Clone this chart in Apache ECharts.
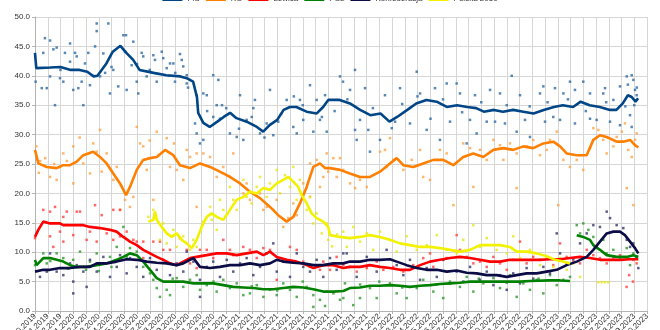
<!DOCTYPE html>
<html><head><meta charset="utf-8">
<script src="https://cdn.jsdelivr.net/npm/echarts@6/dist/echarts.min.js"></script>
<style>html,body{margin:0;padding:0;background:#fff}#c{width:660px;height:330px}</style>
</head><body><div id="c"></div>
<script>
// x values: months since 01.10.2019
const monthLabels = ['01.10.2019','01.11.2019','01.12.2019',
'01.01.2020','01.02.2020','01.03.2020','01.04.2020','01.05.2020','01.06.2020','01.07.2020','01.08.2020','01.09.2020','01.10.2020','01.11.2020','01.12.2020',
'01.01.2021','01.02.2021','01.03.2021','01.04.2021','01.05.2021','01.06.2021','01.07.2021','01.08.2021','01.09.2021','01.10.2021','01.11.2021','01.12.2021',
'01.01.2022','01.02.2022','01.03.2022','01.04.2022','01.05.2022','01.06.2022','01.07.2022','01.08.2022','01.09.2022','01.10.2022','01.11.2022','01.12.2022',
'01.01.2023','01.02.2023','01.03.2023','01.04.2023','01.05.2023','01.06.2023','01.07.2023','01.08.2023','01.09.2023','01.10.2023'];
const yTicks = [0,5,10,15,20,25,30,35,40,45,50];
const parties = ['PiS','KO','Lewica','PSL','Konfederacja','Polska 2050'];

const pisTrend = [[0,43.9],[0.1,41.3],[1.2,41.4],[2,41.5],[2.8,41.0],[3.5,41.0],[4.1,40.7],[4.6,39.9],[4.9,40.0],[5.6,42.1],[6.1,44.1],[6.7,45.1],[7.2,43.8],[7.7,42.7],[8.2,41.0],[9.3,40.5],[10.3,40.1],[11.4,39.9],[11.9,39.6],[12.4,39.0],[12.7,36.4],[12.8,33.7],[13.2,32.0],[13.7,31.3],[14.3,32.2],[14.8,33.0],[15.3,33.7],[15.8,32.8],[16.6,32.2],[17.4,31.3],[17.9,30.5],[18.4,31.6],[19.0,32.5],[19.5,34.2],[20,34.7],[20.5,34.7],[21.3,33.9],[22.1,33.6],[22.6,34.7],[23,35.9],[23.1,35.6],[23.9,35.9],[24.7,35.3],[25.5,34.2],[26.3,33.3],[27.1,33.6],[27.8,32.2],[28.4,33.0],[29.2,34.2],[29.9,35.3],[30.7,35.9],[31.5,35.6],[32.3,34.7],[33.1,35.0],[33.9,34.7],[34.6,34.5],[35.2,33.9],[36,34.2],[36.7,33.9],[37.5,34.2],[38.3,33.9],[39.1,33.6],[39.9,34.2],[40.7,34.7],[41.4,35.0],[42.2,34.7],[42.8,35.6],[43.5,35.0],[44.3,34.7],[45.1,34.2],[45.6,34.2],[46.1,35.3],[46.5,36.7],[46.8,36.4],[47.1,35.6],[47.3,36.2]];
const koTrend = [[0,27.4],[0.26,25.1],[0.92,24.5],[1.7,24.3],[2.22,24.8],[2.75,24.8],[3.27,25.4],[3.79,26.5],[4.57,27.1],[5.1,26.2],[5.62,25.1],[6.14,23.4],[6.67,21.7],[7.14,19.7],[7.45,21.1],[7.98,24.0],[8.49,25.7],[9.02,26.0],[9.55,26.2],[10.2,27.4],[10.85,26.5],[11.37,24.8],[12.16,24.3],[12.94,25.1],[13.73,24.5],[14.5,23.7],[15.29,22.8],[16.08,21.7],[16.86,20.3],[17.65,19.2],[18.43,17.7],[19.08,16.3],[19.74,15.2],[20.26,16.0],[20.78,18.3],[21.31,21.1],[21.83,24.5],[22.35,25.1],[22.75,24.3],[23.14,24.3],[23.92,24.0],[24.7,23.4],[25.49,22.8],[26.27,22.8],[27.06,23.7],[27.84,25.1],[28.37,26.0],[28.89,24.8],[29.67,24.5],[30.45,25.1],[31.24,25.7],[32.02,25.7],[32.81,24.8],[33.59,26.2],[34.38,26.8],[35.16,26.2],[35.95,27.4],[36.73,27.7],[37.51,27.4],[38.3,28.0],[39.08,27.7],[39.87,28.5],[40.65,28.8],[41.18,28.0],[41.7,26.8],[42.49,26.5],[43.27,26.5],[43.79,29.1],[44.31,29.9],[44.84,29.6],[45.62,28.8],[46.14,28.8],[46.67,29.1],[47.06,28.2],[47.32,27.8]];
const lewicaTrend = [[0,12.6],[0.26,13.8],[0.65,15.2],[1.18,14.9],[1.96,14.9],[2.22,14.6],[3,14.6],[3.79,14.6],[4.31,14.3],[5.1,14.1],[5.88,13.8],[6.4,13.5],[6.93,12.6],[7.45,11.8],[7.98,11.2],[8.49,10.4],[9.02,9.8],[9.55,9.2],[10.06,8.7],[10.59,8.1],[11.11,7.8],[11.63,8.4],[12.16,9.0],[12.68,9.2],[13.47,9.5],[14.25,9.8],[15.04,9.8],[15.82,9.5],[16.6,9.8],[17.39,10.1],[17.91,9.5],[18.43,10.1],[18.96,9.2],[19.74,8.7],[20.53,8.4],[21.31,7.8],[21.83,7.3],[22.61,7.8],[23.4,7.8],[24.18,7.3],[24.7,7.5],[25.49,7.5],[26.27,7.8],[27.06,7.5],[27.84,7.3],[28.63,7.0],[29.41,7.0],[30.2,7.8],[30.98,8.4],[31.76,8.7],[32.55,9.0],[33.33,9.2],[34.12,9.0],[34.9,8.7],[35.69,8.4],[36.47,8.4],[37.25,8.7],[38.04,8.7],[38.82,8.7],[39.61,8.7],[40.39,8.8],[41.18,8.8],[41.96,9.0],[42.75,9.2],[43.53,9.0],[44.31,8.7],[45.1,8.7],[45.88,8.7],[46.67,8.8],[47.32,8.8]];
const pslTrend = [[0,8.7],[0.13,7.8],[0.65,9.0],[1.18,9.0],[1.7,8.7],[2.22,8.4],[2.75,7.8],[3.27,7.5],[4.05,7.5],[4.84,7.8],[5.62,8.1],[6.4,8.7],[6.93,9.2],[7.45,9.8],[7.98,9.5],[8.49,8.4],[9.02,7.0],[9.55,5.6],[10.06,5.0],[10.85,5.0],[11.63,5.0],[12.42,4.7],[13.2,4.7],[13.98,4.7],[14.77,4.4],[15.55,4.1],[16.34,4.0],[17.12,3.9],[17.91,3.7],[18.69,3.7],[19.47,3.9],[20.26,4.1],[21.04,4.0],[21.83,3.7],[22.61,3.3],[23.4,3.3],[24.18,3.4],[24.7,3.9],[25.49,4.0],[26.27,4.3],[27.06,4.3],[27.84,4.4],[28.63,4.3],[29.41,4.1],[30.2,4.3],[30.98,4.4],[31.76,4.6],[32.55,4.7],[33.33,4.8],[34.12,5.0],[34.9,5.0],[36.47,5.0],[38.04,5.0],[38.82,5.1],[40.39,5.2],[41.18,5.2],[41.96,5.1],[42.3,null],[42.49,12.9],[43.0,12.6],[43.53,12.1],[43.79,11.2],[44.31,10.4],[44.84,9.5],[45.62,9.2],[46.41,9.2],[46.93,9.5],[47.32,9.2]];
const konfTrend = [[0,6.7],[0.65,7.0],[1.18,7.0],[1.96,7.3],[2.75,7.3],[3.53,7.5],[4.31,7.5],[4.84,8.1],[5.62,8.1],[6.4,8.4],[7.19,8.8],[7.98,8.7],[8.76,8.4],[9.55,8.2],[10.33,8.1],[11.11,7.8],[11.63,8.1],[12.42,9.0],[12.94,7.5],[13.73,7.3],[14.5,7.5],[15.29,7.8],[16.08,7.8],[16.86,8.1],[17.65,7.8],[18.43,8.1],[18.96,8.7],[19.47,8.4],[20.26,8.2],[21.04,8.1],[21.83,7.8],[22.61,7.8],[23.4,8.1],[24.18,8.1],[24.7,8.4],[25.49,8.4],[26.27,8.7],[27.06,8.7],[27.84,8.8],[28.37,8.4],[29.15,7.8],[29.94,7.3],[30.72,7.0],[31.51,7.0],[32.29,6.7],[33.07,6.9],[33.86,6.5],[34.64,6.4],[35.43,6.1],[36.21,6.1],[37.0,5.8],[37.78,6.1],[38.56,6.4],[39.35,6.4],[40.13,6.7],[40.92,7.0],[41.7,7.8],[42.49,8.4],[43.27,9.2],[43.79,10.4],[44.31,11.8],[44.84,13.2],[45.36,13.5],[45.88,13.5],[46.27,12.9],[46.67,11.8],[47.06,10.7],[47.32,9.8]];
const p2050Trend = [[8.89,15.2],[9.28,15.5],[9.41,16.9],[9.55,15.5],[9.94,14.3],[10.33,13.2],[10.72,12.6],[11.11,13.2],[11.51,12.1],[11.9,11.5],[12.29,10.7],[12.68,12.1],[13.07,14.3],[13.47,16.0],[13.86,16.6],[14.25,16.0],[14.77,15.5],[15.29,17.2],[15.82,18.9],[16.34,19.4],[16.86,20.3],[17.39,20.0],[17.91,20.9],[18.43,20.6],[18.96,21.7],[19.47,22.3],[19.87,22.8],[20.26,22.0],[20.65,21.1],[20.92,19.7],[21.31,18.3],[21.7,16.6],[22.09,15.8],[22.61,15.2],[23.0,14.3],[23.14,12.9],[23.92,12.6],[24.7,12.4],[25.49,12.6],[26.27,12.9],[27.06,12.6],[27.84,12.1],[28.63,11.5],[29.41,11.2],[30.2,10.9],[30.98,10.9],[31.76,10.7],[32.55,10.4],[33.33,10.1],[34.12,10.4],[34.9,11.2],[35.69,11.2],[36.47,11.2],[37.25,10.9],[37.78,10.1],[38.56,10.1],[39.35,9.8],[40.13,9.3],[40.8,8.7],[41.4,8.4],[41.96,8.1]];

const pisPolls = [[0.05,39.0],[0.78,46.4],[1.18,46.0],[0.65,43.9],[1.44,44.5],[1.70,44.8],[0.53,37.9],[0.92,37.9],[1.18,39.9],[1.96,39.6],[2.22,39.0],[2.75,45.5],[2.35,43.9],[2.75,42.4],[3.14,43.9],[3.27,43.3],[3.0,37.6],[3.4,37.9],[3.66,39.0],[3.92,42.1],[4.18,43.9],[4.31,38.4],[4.84,48.9],[4.84,47.6],[4.71,45.0],[5.10,39.9],[5.36,43.8],[5.75,48.9],[5.88,37.0],[6.14,41.0],[6.53,38.2],[6.93,46.9],[7.14,46.9],[7.06,44.1],[7.19,37.6],[7.71,45.8],[7.58,41.8],[7.98,39.0],[8.10,37.0],[8.37,43.9],[8.49,43.3],[8.76,39.9],[9.28,43.5],[9.41,42.7],[9.55,39.0],[9.94,44.1],[10.06,43.0],[10.33,41.3],[10.59,42.1],[10.85,42.1],[10.98,39.0],[11.37,43.7],[11.51,42.7],[11.63,41.6],[11.9,40.1],[11.9,38.7],[12.68,36.7],[13.2,37.0],[13.47,36.7],[13.98,40.1],[14.38,39.3],[1.57,35.0],[3.79,35.0],[12.55,31.9],[12.68,30.2],[12.94,28.5],[13.2,29.1],[13.98,33.0],[14.51,32.7],[14.25,35.0],[15.29,30.2],[15.82,29.6],[16.34,29.1],[16.6,32.5],[17.12,34.5],[17.65,30.2],[18.17,31.9],[18.69,29.9],[19.08,32.2],[19.74,35.9],[20.26,31.3],[20.53,30.2],[21.04,32.5],[21.83,30.5],[22.35,32.5],[22.88,30.5],[22.09,35.9],[14.67,35.0],[16.08,36.7],[17.25,35.9],[18.43,37.6],[20.78,35.9],[21.57,38.4],[22.75,36.7],[23.92,39.9],[24.16,39.0],[25.1,41.0],[25.1,30.8],[25.23,29.1],[26.14,30.8],[26.27,27.1],[27.06,29.1],[27.98,31.1],[28.63,37.9],[29.94,40.7],[30.72,30.8],[31.76,29.1],[32.29,38.7],[33.07,38.7],[33.86,28.5],[34.64,30.2],[35.43,32.2],[37.39,40.0],[37.78,30.5],[38.82,29.6],[39.87,38.2],[40.65,33.0],[41.44,37.0],[41.96,39.0],[43.0,39.0],[43.53,32.7],[44.05,32.5],[44.57,37.0],[45.36,35.9],[46.41,39.9],[46.8,40.1],[46.93,39.3],[46.8,31.3],[46.67,33.3],[47.06,37.6],[47.19,36.7],[24.71,37.6],[25.88,37.9],[27.45,36.7],[30.2,37.0],[31.37,37.9],[33.33,37.0],[34.51,36.7],[35.69,37.6],[36.47,37.0],[38.04,36.7],[39.61,37.0],[40.78,37.9],[42.35,37.6],[43.53,37.0],[44.71,37.9],[45.88,38.2],[25.49,32.5],[28.24,32.2],[29.41,31.9],[31.02,32.7],[32.55,32.2],[34.12,32.5],[36.08,32.2],[36.86,31.9],[38.43,32.5],[40.0,32.2],[41.18,32.5],[42.35,31.9],[45.1,32.2],[45.88,31.6],[26.5,34.5],[28.8,35.2],[30.0,36.5],[32.0,36.0],[33.5,33.8],[35.0,35.5],[37.0,35.0],[38.8,34.8],[40.2,35.5],[41.8,36.0],[43.2,34.0],[44.8,35.5],[46.3,34.8],[47.0,35.0],[47.2,38.0],[46.5,38.5],[13.5,34.0],[15.0,34.5],[16.0,31.0],[17.0,33.0],[18.0,29.5],[19.3,33.5],[20.3,36.5],[21.0,35.0],[22.5,33.0],[23.5,34.0],[24.5,36.0],[2.0,41.0],[5.5,40.5],[6.0,41.5],[8.0,42.0],[9.0,41.0],[10.5,40.0],[11.0,40.5],[12.0,38.0]];
const koPolls = [[0.1,28.0],[0.4,25.5],[0.8,26.0],[1.5,25.0],[2.5,25.5],[0.3,23.5],[5.1,30.8],[3.5,29.5],[9.0,29.0],[10.9,28.5],[2.22,26.8],[1.96,24.5],[3.0,28.0],[1.18,22.8],[1.7,22.3],[3.0,21.7],[3.79,25.1],[4.57,28.5],[4.84,27.1],[4.31,23.4],[5.23,23.7],[5.62,26.8],[6.14,22.3],[6.41,24.5],[6.67,17.2],[7.06,18.9],[7.45,17.7],[7.71,19.4],[7.98,31.3],[8.24,28.5],[8.49,28.0],[8.76,24.0],[9.28,18.9],[9.55,30.5],[10.33,29.4],[10.59,24.5],[11.11,24.0],[11.63,22.3],[11.9,27.4],[12.16,26.2],[12.68,26.8],[12.68,17.7],[13.2,26.8],[13.73,26.2],[14.25,22.8],[14.77,24.5],[15.29,22.8],[15.55,26.8],[16.34,20.0],[16.6,21.7],[16.86,18.9],[17.65,20.0],[17.91,17.2],[18.17,17.7],[18.69,17.2],[18.96,18.9],[19.47,14.3],[19.87,15.8],[20.26,18.3],[20.53,16.3],[21.04,21.7],[21.57,19.4],[21.57,25.1],[22.09,25.7],[22.35,21.1],[22.88,26.8],[23.0,23.7],[22.61,22.8],[23.4,26.0],[23.92,26.0],[24.18,24.0],[23.66,22.8],[24.71,21.7],[25.1,20.9],[25.49,22.3],[26.02,21.1],[27.06,27.1],[27.45,27.4],[27.58,24.5],[28.1,25.7],[27.84,29.4],[28.89,24.0],[29.55,25.7],[30.2,27.4],[30.45,22.8],[30.98,22.3],[31.76,27.4],[32.29,26.8],[32.81,18.0],[33.59,28.5],[34.12,27.7],[34.38,21.1],[34.9,27.4],[35.43,25.7],[35.95,29.1],[36.47,28.2],[36.73,25.7],[37.25,28.5],[37.78,20.9],[37.78,26.8],[38.56,28.0],[39.08,29.1],[39.61,26.5],[40.13,27.4],[40.39,29.1],[40.92,30.5],[41.04,18.0],[41.44,25.7],[41.96,24.5],[42.49,25.7],[43.0,24.0],[43.53,27.7],[43.79,31.1],[44.18,30.8],[44.57,29.1],[44.84,26.8],[45.36,28.0],[45.62,29.6],[46.02,30.5],[46.27,31.9],[46.53,27.4],[46.8,26.2],[47.06,29.1],[47.19,30.2],[46.41,20.9],[46.93,18.0]];
const lewicaPolls = [[0,12.4],[0.65,17.2],[1.18,16.9],[1.57,17.7],[2.22,16.0],[2.49,16.9],[3.27,16.9],[3.53,16.9],[4.71,18.0],[5.23,16.3],[1.96,13.5],[1.18,12.7],[2.22,11.8],[3.0,12.9],[1.44,10.9],[4.05,12.1],[4.31,13.5],[4.84,11.8],[5.62,13.2],[6.14,12.1],[6.67,12.7],[7.19,13.5],[6.14,17.2],[6.67,17.2],[7.71,12.1],[7.98,11.8],[8.49,11.8],[8.49,9.0],[9.28,11.8],[9.8,11.8],[10.06,10.4],[10.59,10.4],[11.37,12.4],[11.9,10.4],[12.16,8.1],[12.68,7.3],[12.94,10.4],[13.47,10.4],[13.98,9.0],[14.77,12.1],[15.29,10.4],[15.55,9.5],[16.34,10.9],[16.86,10.4],[17.39,9.0],[17.91,10.7],[18.43,10.4],[18.96,5.3],[19.47,8.7],[20.0,10.9],[20.53,10.4],[21.04,8.4],[21.57,7.5],[22.35,7.0],[22.61,8.4],[23.14,7.0],[23.66,9.2],[24.18,7.8],[24.71,7.5],[25.23,6.7],[26.02,7.3],[26.8,8.4],[27.32,7.0],[28.1,7.5],[28.89,6.7],[29.67,7.8],[30.45,9.0],[30.98,9.8],[31.24,7.5],[32.29,9.0],[33.07,12.9],[33.33,10.4],[33.86,9.2],[34.38,8.1],[34.9,8.4],[35.43,7.5],[35.95,9.2],[36.47,8.1],[37.0,7.0],[37.51,8.7],[38.04,11.8],[38.56,8.1],[39.08,9.2],[39.61,8.7],[40.13,6.7],[40.65,7.8],[41.18,11.5],[41.7,9.2],[42.22,8.4],[42.75,8.1],[43.27,10.4],[43.79,9.5],[44.31,9.0],[44.84,8.1],[45.36,9.0],[45.88,9.5],[46.4,4.1],[46.6,6.1],[46.93,8.7],[47.19,8.1],[46.9,5.0]];
const pslPolls = [[0,7.8],[0.65,9.8],[0.92,8.1],[1.7,9.8],[2.22,9.0],[3.0,8.7],[3.53,10.1],[4.31,8.4],[4.84,9.8],[5.36,8.1],[5.88,9.2],[6.41,10.9],[6.93,14.3],[7.19,9.2],[7.45,10.7],[7.98,10.1],[8.49,7.5],[9.02,6.4],[9.28,5.3],[9.55,3.9],[9.8,2.4],[10.33,3.6],[10.59,2.7],[11.11,5.6],[11.63,4.1],[12.16,5.3],[12.68,6.1],[12.94,3.6],[13.47,4.4],[14.25,3.3],[14.77,5.3],[15.29,3.9],[15.82,4.7],[16.34,2.7],[16.86,3.0],[17.39,4.4],[17.91,2.4],[18.43,3.6],[18.96,2.7],[19.47,4.7],[20.0,3.6],[20.53,2.4],[21.31,4.1],[21.83,2.7],[22.35,1.9],[22.88,3.3],[23.4,3.0],[23.92,1.9],[24.31,4.7],[21.83,0.7],[22.75,0.85],[24.18,2.2],[24.96,1.0],[25.49,2.2],[26.27,3.9],[26.8,2.2],[27.84,4.7],[28.37,3.0],[29.15,2.2],[29.94,3.9],[30.45,5.3],[31.24,3.3],[32.02,2.2],[32.55,5.0],[33.33,4.1],[33.86,5.8],[34.38,3.3],[35.16,4.7],[35.95,5.6],[36.47,3.9],[37.25,6.1],[37.78,2.4],[38.3,4.7],[38.82,3.6],[39.35,5.3],[39.87,3.0],[40.39,6.1],[40.92,4.4],[41.44,5.3],[41.96,5.8],[42.49,14.6],[42.75,13.2],[43.0,14.9],[43.4,13.8],[43.79,12.6],[44.05,10.9],[44.57,12.1],[44.84,9.8],[45.36,10.4],[45.88,9.0],[46.41,10.7],[46.67,7.8],[46.93,9.8],[47.19,9.0],[1.2,8.5],[2.6,7.2],[4.0,7.0],[5.0,6.8],[6.0,7.5],[10.8,5.5],[14.0,5.0],[17.0,4.2],[19.0,3.5],[21.0,5.0],[25.5,4.5],[27.0,5.0],[28.8,4.0],[31.5,4.5],[34.8,5.5],[37.0,4.8],[39.5,5.5]];
const konfPolls = [[0.39,5.8],[0.92,6.7],[1.18,9.8],[1.7,6.7],[2.22,6.1],[2.75,8.1],[3.0,5.0],[3.27,7.8],[3.79,6.7],[4.31,8.7],[4.84,6.7],[5.36,9.2],[5.88,5.8],[6.41,7.5],[6.67,9.5],[7.19,6.4],[7.45,9.0],[7.98,7.5],[8.49,5.8],[9.02,9.0],[9.55,7.0],[10.06,8.7],[10.59,6.1],[11.11,8.1],[11.63,6.7],[11.9,10.1],[12.42,8.4],[12.94,5.3],[13.47,7.5],[13.98,8.4],[14.51,5.8],[15.04,8.7],[15.55,6.7],[16.08,8.1],[16.6,9.0],[17.12,6.1],[17.65,7.5],[18.17,9.8],[18.69,11.5],[18.96,6.7],[19.47,8.4],[20.0,5.8],[20.53,9.8],[21.04,7.5],[21.57,6.7],[22.09,8.7],[22.61,5.8],[23.14,9.0],[23.66,7.0],[24.18,9.8],[3.0,3.0],[4.05,4.1],[12.94,2.4],[24.45,9.8],[25.23,5.8],[26.02,9.2],[26.8,6.7],[27.58,10.4],[28.37,7.8],[28.89,6.1],[29.41,8.7],[30.2,5.3],[30.72,7.3],[31.51,5.8],[32.02,8.7],[32.55,4.7],[33.07,6.7],[33.59,5.0],[34.12,7.5],[34.9,5.3],[35.43,6.7],[35.95,4.4],[36.47,6.1],[37.0,3.6],[37.51,6.4],[38.04,4.7],[38.56,7.3],[39.08,5.5],[39.87,7.5],[40.39,6.4],[40.92,13.2],[41.18,9.8],[41.7,8.1],[42.22,8.8],[42.75,11.5],[43.27,13.2],[43.79,14.6],[44.31,14.3],[44.84,16.9],[45.1,15.8],[45.62,14.6],[46.14,14.1],[46.41,12.1],[46.67,10.9],[46.93,11.5],[47.19,9.2],[47.32,7.3]];
const p2050Polls = [[8.89,16.0],[9.28,17.2],[9.8,12.1],[10.06,14.9],[10.33,11.5],[10.85,13.8],[11.11,10.9],[11.63,12.7],[12.16,10.4],[12.42,12.1],[12.68,10.9],[13.2,15.2],[13.73,17.7],[13.86,15.5],[14.25,13.8],[14.51,18.9],[14.77,17.2],[15.29,21.1],[15.55,18.9],[15.82,17.2],[16.34,22.3],[16.6,19.4],[17.0,18.3],[17.39,21.1],[17.65,22.8],[18.17,19.4],[18.43,21.7],[18.96,24.0],[19.22,20.0],[19.61,23.1],[20.0,21.1],[20.26,24.5],[20.53,18.9],[20.78,22.3],[21.31,17.2],[21.57,19.4],[21.83,14.9],[22.09,16.6],[22.49,13.2],[22.88,14.9],[23.0,12.1],[23.3,11.0],[23.7,13.0],[24.18,13.5],[24.45,10.9],[24.96,14.3],[25.49,11.8],[26.02,13.2],[26.53,10.4],[27.06,13.5],[27.84,12.1],[28.37,10.1],[29.15,12.7],[29.94,10.4],[30.72,11.2],[31.51,12.9],[32.29,10.4],[33.07,9.8],[33.59,12.1],[34.38,14.6],[34.9,10.9],[35.43,12.4],[36.21,10.4],[37.0,9.8],[37.51,12.7],[38.04,9.0],[38.82,10.4],[39.61,7.8],[40.13,9.0],[40.65,7.5],[41.18,9.0],[41.7,7.0],[42.22,8.1],[42.75,5.8],[44.18,4.9],[44.44,4.9],[44.7,4.9],[44.96,4.9]];

const lineColors = ['#004586','#ff7f00','#ff0000','#008000','#0b0b45','#f2f200'];
const dotColors = ['#2f6aa3','#ffa347','#ff4040','#2e9a2e','#34346e','#e6e61a'];
const trends = [pisTrend, koTrend, lewicaTrend, pslTrend, konfTrend, p2050Trend];
const polls = [pisPolls, koPolls, lewicaPolls, pslPolls, konfPolls, p2050Polls];

const FONT = 'Liberation Sans';
const series = [];
parties.forEach((p, i) => {
  series.push({
    name: p + ' (sondaże)', type: 'scatter', data: polls[i], symbol: 'rect', symbolSize: 2.5,
    itemStyle: { color: dotColors[i] }, z: 2, silent: true, animation: false
  });
});
parties.forEach((p, i) => {
  series.push({
    name: p, type: 'line', data: trends[i], showSymbol: false, symbol: 'none',
    connectNulls: false, lineStyle: { width: 2.6, color: lineColors[i] },
    itemStyle: { color: lineColors[i] }, z: 3 + i, animation: false
  });
});

const chart = echarts.init(document.getElementById('c'), null, { renderer: 'canvas' });
chart.setOption({
  animation: false,
  backgroundColor: '#ffffff',
  textStyle: { fontFamily: FONT },
  legend: {
    data: parties.map((p, i) => ({ name: p, icon: 'rect', itemStyle: { color: lineColors[i] } })),
    top: -5, left: 'center', padding: 0, itemWidth: 20, itemHeight: 4, itemGap: 6,
    textStyle: { fontSize: 8, color: '#333', fontFamily: FONT }
  },
  grid: { left: 35, right: 13, top: 17, bottom: 19, containLabel: false, outerBoundsMode: 'none' },
  xAxis: {
    type: 'value', min: 0, max: monthLabels.length - 1, interval: 1,
    axisLine: { show: true, lineStyle: { color: '#b3b3b3' } },
    axisTick: { show: true, length: 3, lineStyle: { color: '#b3b3b3' } },
    splitLine: { show: true, lineStyle: { color: '#d6d6d6', width: 1 } },
    axisLabel: { formatter: v => monthLabels[Math.round(v)] || '', rotate: 45, margin: 4, fontSize: 8, color: '#333', fontFamily: FONT, showMinLabel: true, showMaxLabel: true, hideOverlap: false }
  },
  yAxis: {
    type: 'value', min: yTicks[0], max: yTicks[yTicks.length - 1], interval: 5,
    axisLine: { show: true, lineStyle: { color: '#b3b3b3' } },
    axisTick: { show: true, length: 3, lineStyle: { color: '#b3b3b3' } },
    splitLine: { show: true, lineStyle: { color: '#d6d6d6', width: 1 } },
    axisLabel: { formatter: v => v.toFixed(1), fontSize: 8, color: '#333', margin: 5, fontFamily: FONT }
  },
  series: series
});
</script>
</body></html>
